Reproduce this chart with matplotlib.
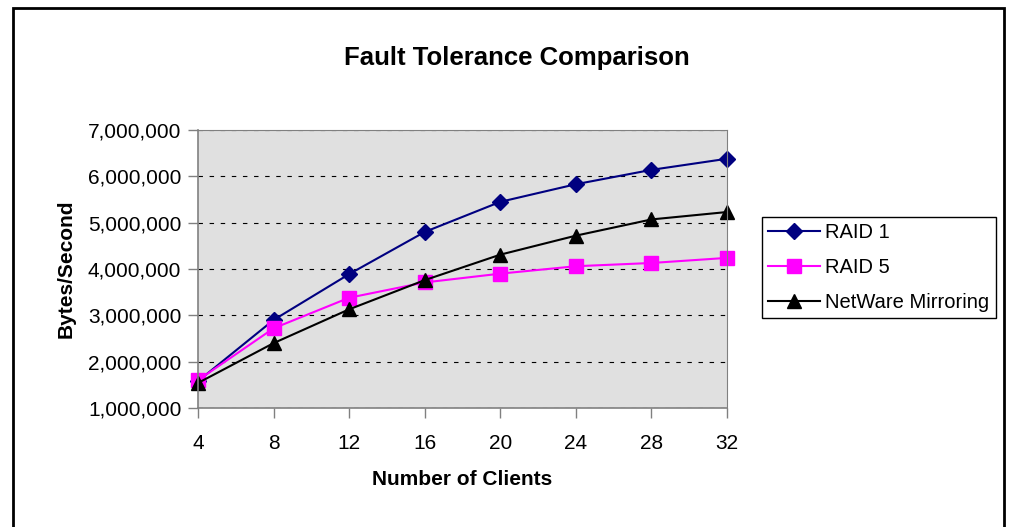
import matplotlib.pyplot as plt
from matplotlib.patches import Rectangle
from matplotlib.ticker import FuncFormatter

clients = [4, 8, 12, 16, 20, 24, 28, 32]
raid1 = [1580000, 2900000, 3890000, 4800000, 5450000, 5830000, 6140000, 6380000]
raid5 = [1600000, 2720000, 3380000, 3710000, 3900000, 4060000, 4130000, 4240000]
netware = [1540000, 2400000, 3130000, 3760000, 4310000, 4720000, 5070000, 5230000]
y_ticks = [1000000, 2000000, 3000000, 4000000, 5000000, 6000000, 7000000]

plt.rcParams['font.family'] = ['Liberation Sans', 'DejaVu Sans']
plt.rcParams['font.size'] = 15

fig = plt.figure(figsize=(10.18, 5.27), dpi=100)
ax = fig.add_axes([0.1945, 0.2258, 0.5197, 0.5275])

# outer chart border
fig.patches.append(Rectangle((13 / 1018, -0.05), (1004 - 13) / 1018, 1 - 8 / 527 + 0.05,
                             transform=fig.transFigure, fill=False, edgecolor='black', linewidth=2))

ax.set_facecolor('#E0E0E0')
ax.plot(clients, raid1, color='#000080', marker='D', markersize=8, linewidth=1.5, label='RAID 1')
ax.plot(clients, raid5, color='#FF00FF', marker='s', markersize=10, linewidth=1.5, label='RAID 5')
ax.plot(clients, netware, color='black', marker='^', markersize=10, linewidth=1.5, label='NetWare Mirroring')

ax.set_xlim(4, 32)
ax.set_ylim(1000000, 7000000)
ax.set_xticks(clients)
ax.set_yticks(y_ticks)
ax.yaxis.set_major_formatter(FuncFormatter(lambda v, p: '{:,.0f}'.format(v)))
ax.tick_params(direction='out', length=7, width=1, color='#808080', labelsize=15)
ax.tick_params(axis='x', pad=12)
ax.tick_params(axis='y', pad=5)
ax.grid(True, axis='y', color='black', linestyle=(0, (4, 6)), linewidth=0.8)
for side in ['top', 'right']:
    ax.spines[side].set_color('#808080')
for side in ['left', 'bottom']:
    ax.spines[side].set_color('#808080')
    ax.spines[side].set_linewidth(1.2)

ax.set_xlabel('Number of Clients', fontweight='bold', fontsize=15, labelpad=12)
ax.set_ylabel('Bytes/Second', fontweight='bold', fontsize=15, labelpad=9)
fig.text(0.508, 1 - 58 / 527, 'Fault Tolerance Comparison', ha='center', va='center', fontweight='bold', fontsize=18.5)

for l in ax.get_lines():
    l.set_clip_on(False)

leg = ax.legend(loc='upper left', bbox_to_anchor=(762 / 1018, 1 - 217 / 527), bbox_transform=fig.transFigure,
                fancybox=False, edgecolor='black', framealpha=1, fontsize=14.5, handlelength=2.6,
                borderpad=0.3, labelspacing=0.8, handletextpad=0.25, borderaxespad=0)
leg.get_frame().set_linewidth(1)

plt.savefig('out.png', dpi=100)
